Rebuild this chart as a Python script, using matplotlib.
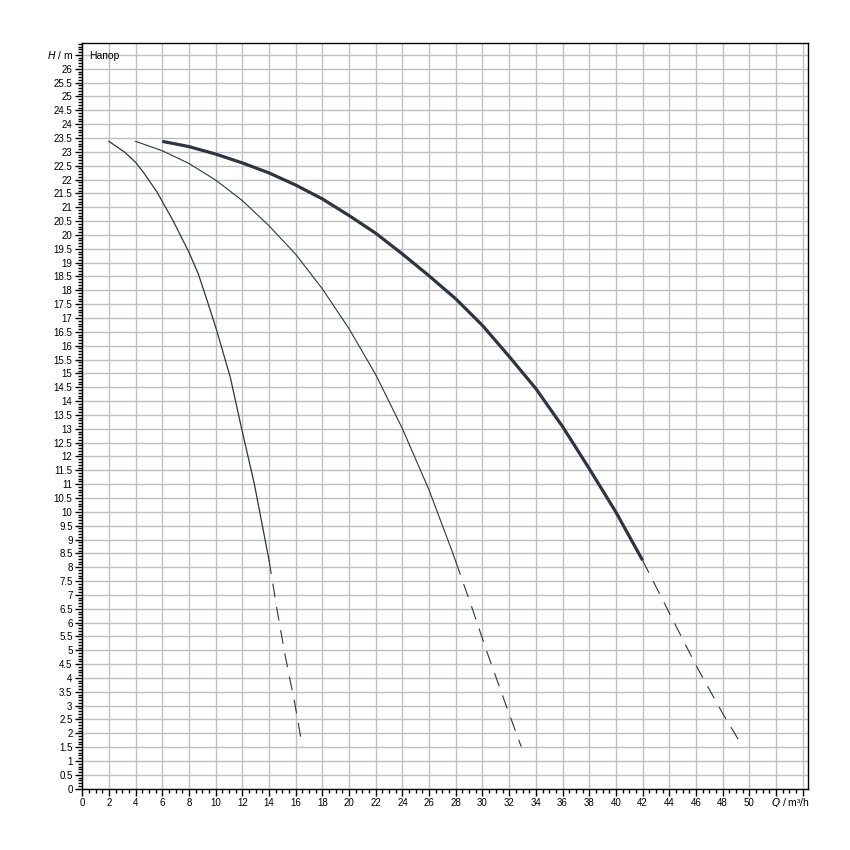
import numpy as np
import matplotlib
matplotlib.use("Agg")
import matplotlib.pyplot as plt
from matplotlib.ticker import MultipleLocator

plt.rcParams['font.family'] = ['Liberation Sans', 'DejaVu Sans']
plt.rcParams['lines.scale_dashes'] = False

# pump curves, Q in m3/h, H in m
q1 = [2.0, 3.2, 4.0, 4.6, 5.6, 6.8, 8.0, 8.7, 9.4, 10.0, 10.5, 11.1, 11.9, 12.9, 14.0]
h1 = [23.38, 22.98, 22.62, 22.25, 21.55, 20.52, 19.37, 18.59, 17.57, 16.67, 15.85, 14.85, 13.1, 11.0, 8.25]
q1_ext = [14.0, 14.56, 15.18, 15.93, 16.5]
h1_ext = [8.25, 6.57, 4.88, 3.08, 1.52]

q2 = [4.0, 6.0, 8.0, 10.0, 12.0, 14.0, 16.0, 18.0, 20.0, 22.0, 24.0, 26.0, 27.67, 28.0]
h2 = [23.38, 23.04, 22.58, 21.98, 21.24, 20.33, 19.3, 18.05, 16.61, 14.95, 13.0, 10.78, 8.64, 8.2]
q2_ext = [28.0, 29.2, 30.4, 31.7, 32.9]
h2_ext = [8.2, 6.55, 4.85, 3.1, 1.52]

q3 = [6.0, 8.0, 10.0, 12.0, 14.0, 16.0, 18.0, 20.0, 22.0, 24.0, 26.0, 28.0, 30.0, 32.0, 34.0, 36.0, 38.0, 40.0, 42.0]
h3 = [23.38, 23.19, 22.92, 22.6, 22.24, 21.8, 21.3, 20.7, 20.06, 19.31, 18.52, 17.69, 16.73, 15.61, 14.45, 13.08, 11.56, 9.99, 8.25]
q3_ext = [42.0, 44.0, 46.0, 48.0, 49.5]
h3_ext = [8.25, 6.35, 4.46, 2.72, 1.52]

x_labels = [str(v) for v in range(0, 51, 2)]
y_labels = [('%g' % (v / 2)) for v in range(0, 53)]

fig = plt.figure(figsize=(8.5, 8.5), dpi=100)
ax = fig.add_axes([0.0968, 0.0721, 0.9506 - 0.0968, 0.950 - 0.0721])

ax.set_xlim(0, 54.4)
ax.set_ylim(0, 26.95)

col = '#2e3440'
ax.plot(q1, h1, color=col, lw=0.9)
ax.plot(q2, h2, color=col, lw=0.8)
ax.plot(q3, h3, color=col, lw=2.3, solid_capstyle='butt', solid_joinstyle='round')
for qe, he in [(q1_ext, h1_ext), (q2_ext, h2_ext), (q3_ext, h3_ext)]:
    ax.plot(qe, he, color=col, lw=0.8, dashes=(10, 7))

# ticks and grid
ax.set_xticks(np.arange(0, 55, 2))
ax.set_xticklabels(x_labels + [''] * 2)
ax.xaxis.set_minor_locator(MultipleLocator(0.5))
ax.set_yticks(np.arange(0, 27, 0.5))
ax.set_yticklabels(y_labels + [''])
ax.yaxis.set_minor_locator(MultipleLocator(0.1))
ax.tick_params(which='major', length=5, width=1, labelsize=7, pad=2, color='black')
ax.tick_params(which='minor', length=3, width=1, color='black')
ax.grid(True, which='major', color='#c0c0c0', lw=1.0)
ax.set_axisbelow(True)
for s in ax.spines.values():
    s.set_color('black')
    s.set_linewidth(1.0)

# axis titles placed like tick labels
ax.annotate('$H$ / m', xy=(0, 26.5), xycoords=('axes fraction', 'data'),
            xytext=(-6.5, 0), textcoords='offset points', ha='right', va='center', fontsize=7.5)
ax.annotate('$Q$ / m³/h', xy=(53.1, 0), xycoords=('data', 'axes fraction'),
            xytext=(0, -5.5), textcoords='offset points', ha='center', va='top', fontsize=7.5)
ax.text(0.5, 26.45, 'Напор', ha='left', va='center', fontsize=7.5)

fig.savefig('out.png', dpi=100)
